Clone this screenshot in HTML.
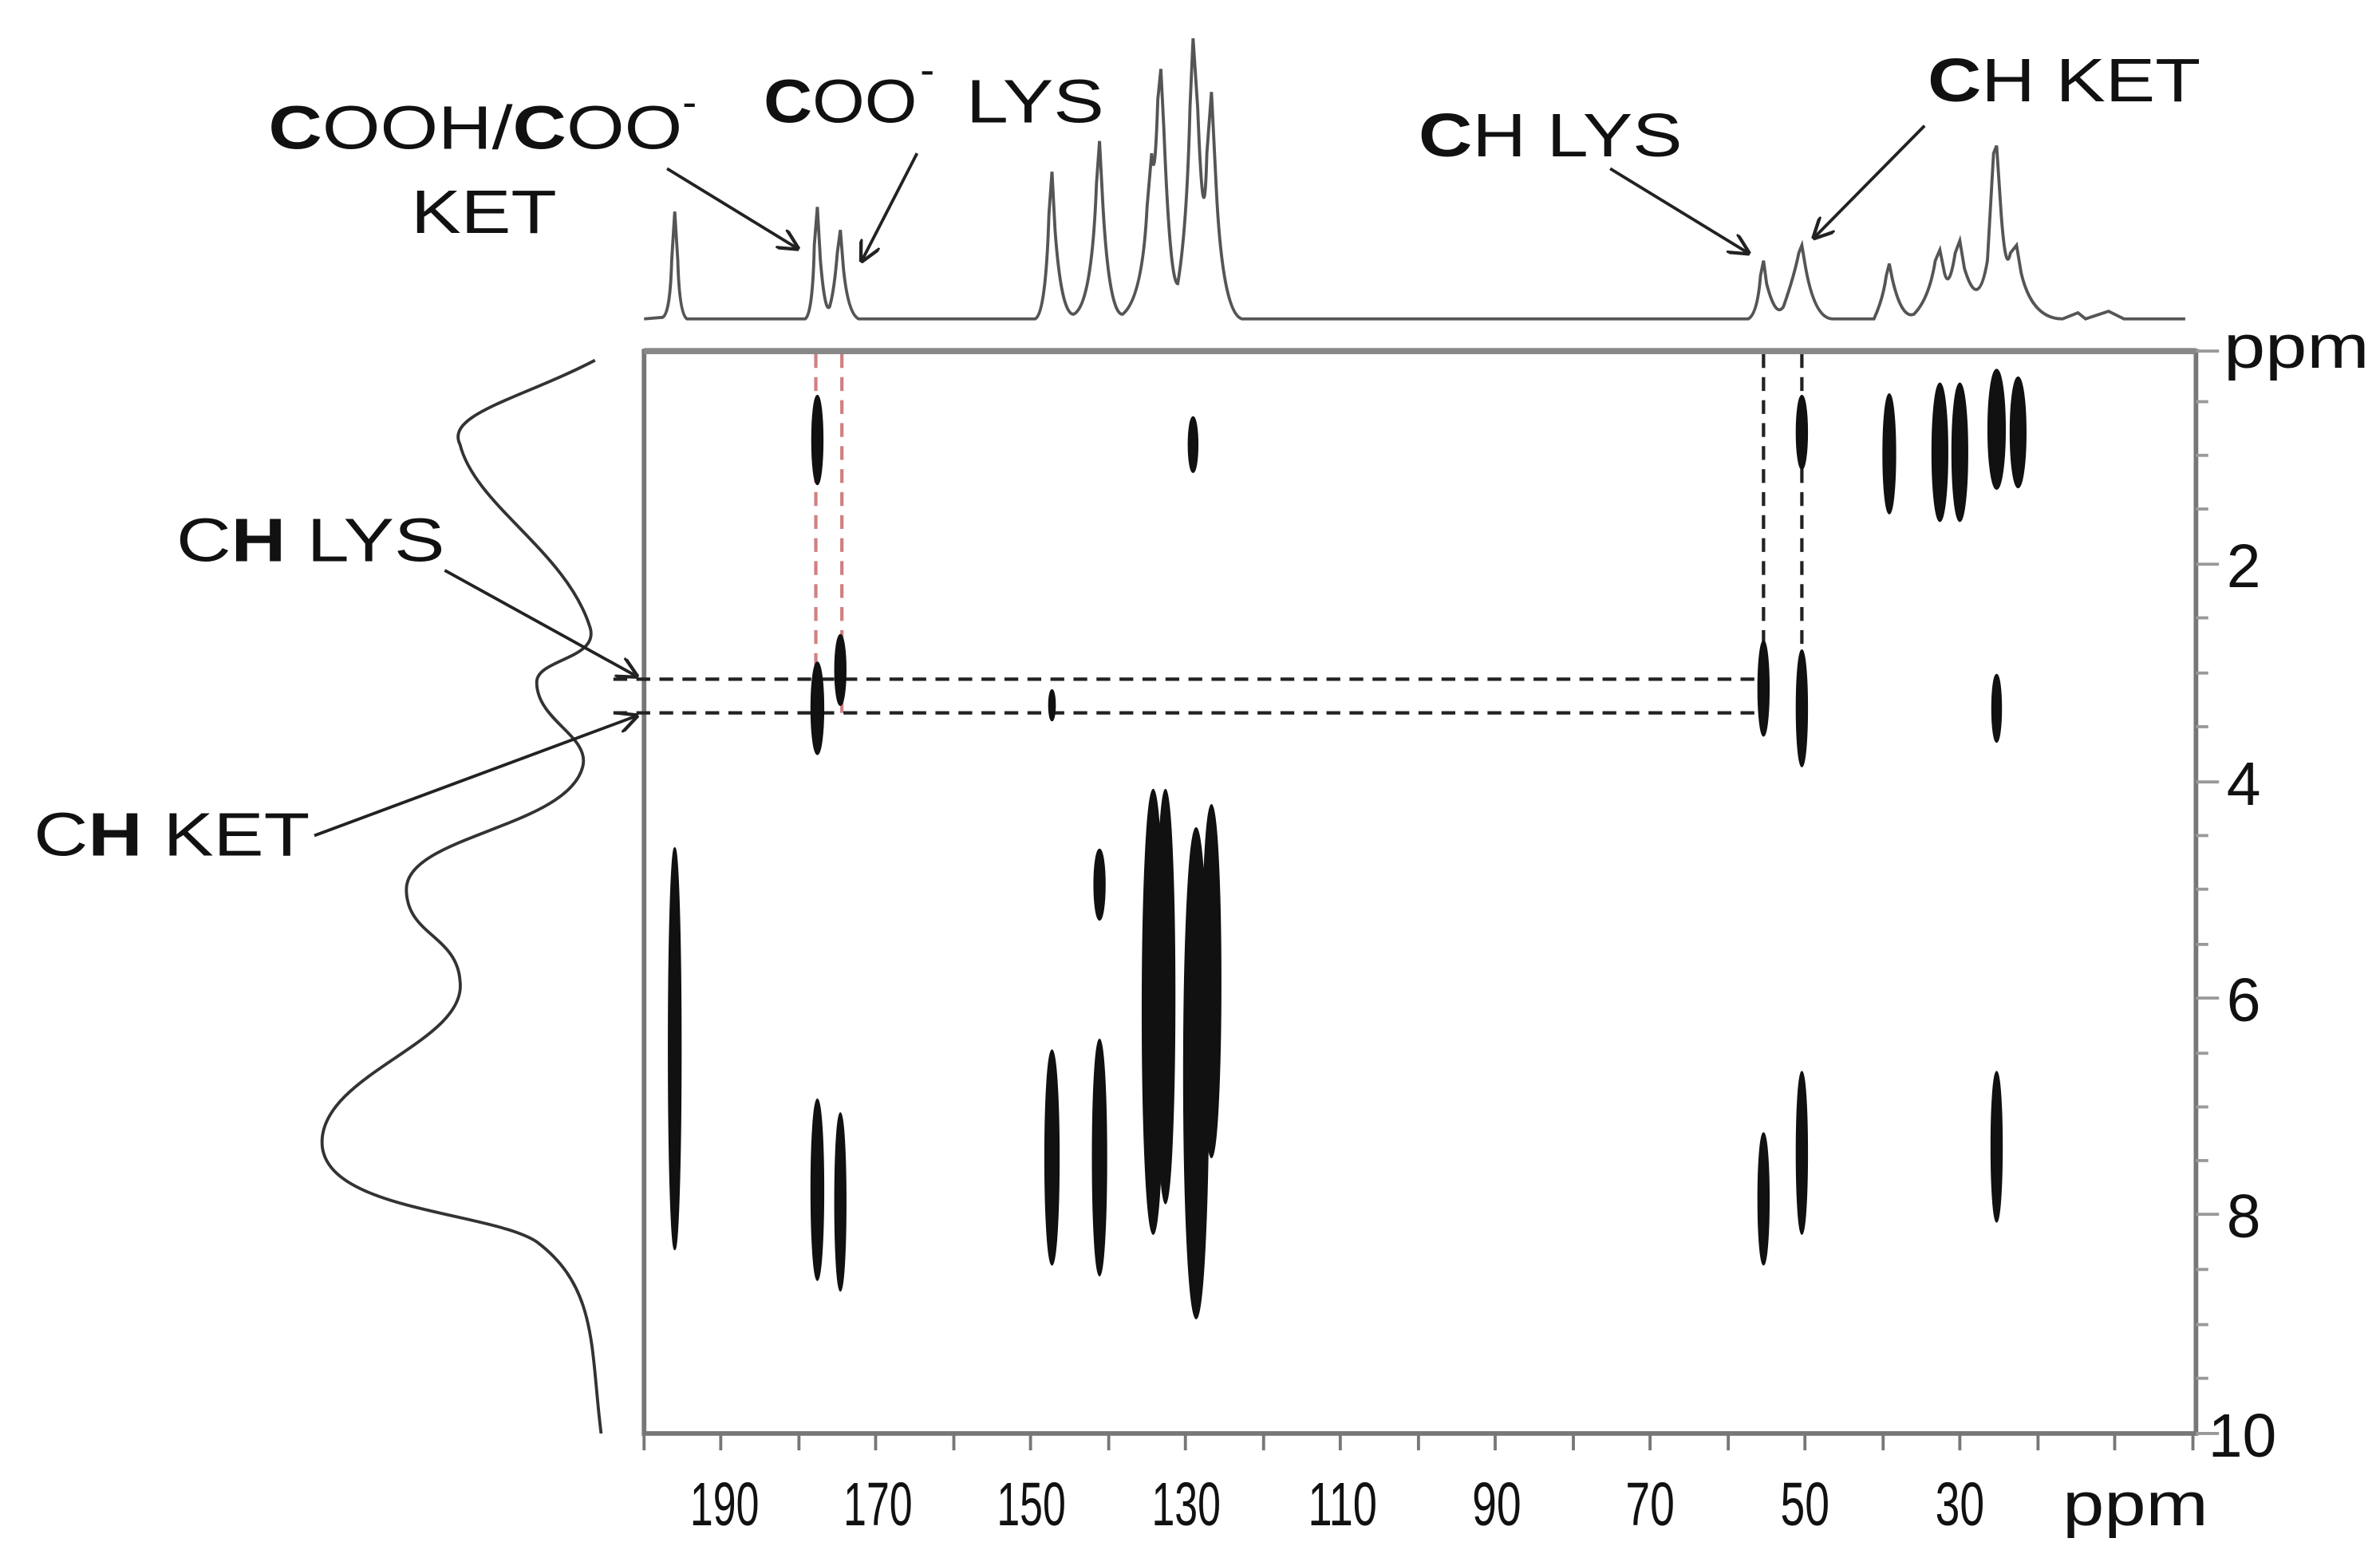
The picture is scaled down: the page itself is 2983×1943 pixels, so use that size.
<!DOCTYPE html>
<html><head><meta charset="utf-8"><style>
html,body{margin:0;padding:0;background:#fff;}
svg{display:block;}
text{font-family:"Liberation Sans",sans-serif;fill:#111;}
</style></head><body>
<svg width="2983" height="1943" viewBox="0 0 1552 1011" preserveAspectRatio="none" xmlns="http://www.w3.org/2000/svg">
<defs>
<marker id="ah" viewBox="0 0 10 10" refX="9" refY="5" markerWidth="7" markerHeight="7" orient="auto"><path d="M0,0 L10,5 L0,10" fill="none" stroke="#222" stroke-width="1.6"/></marker>
</defs>
<!-- plot frame -->
<rect x="420" y="229" width="1012" height="706" fill="none" stroke="#777" stroke-width="3"/>
<line x1="420" y1="229" x2="1432" y2="229" stroke="#888" stroke-width="4"/>
<!-- bottom ticks -->
<g stroke="#777" stroke-width="2">
<line x1="420" y1="935" x2="420" y2="946"/><line x1="470" y1="935" x2="470" y2="946"/><line x1="521" y1="935" x2="521" y2="946"/><line x1="571" y1="935" x2="571" y2="946"/><line x1="622" y1="935" x2="622" y2="946"/><line x1="672" y1="935" x2="672" y2="946"/><line x1="723" y1="935" x2="723" y2="946"/><line x1="773" y1="935" x2="773" y2="946"/><line x1="824" y1="935" x2="824" y2="946"/><line x1="874" y1="935" x2="874" y2="946"/><line x1="925" y1="935" x2="925" y2="946"/><line x1="975" y1="935" x2="975" y2="946"/><line x1="1026" y1="935" x2="1026" y2="946"/><line x1="1076" y1="935" x2="1076" y2="946"/><line x1="1127" y1="935" x2="1127" y2="946"/><line x1="1177" y1="935" x2="1177" y2="946"/><line x1="1228" y1="935" x2="1228" y2="946"/><line x1="1278" y1="935" x2="1278" y2="946"/><line x1="1329" y1="935" x2="1329" y2="946"/><line x1="1379" y1="935" x2="1379" y2="946"/><line x1="1430" y1="935" x2="1430" y2="946"/>
</g>
<!-- right ticks -->
<g stroke="#999" stroke-width="2">
<line x1="1432" y1="229" x2="1447" y2="229"/><line x1="1432" y1="262" x2="1440" y2="262"/><line x1="1432" y1="297" x2="1440" y2="297"/><line x1="1432" y1="332" x2="1440" y2="332"/><line x1="1432" y1="368" x2="1447" y2="368"/><line x1="1432" y1="403" x2="1440" y2="403"/><line x1="1432" y1="439" x2="1440" y2="439"/><line x1="1432" y1="474" x2="1440" y2="474"/><line x1="1432" y1="510" x2="1447" y2="510"/><line x1="1432" y1="545" x2="1440" y2="545"/><line x1="1432" y1="580" x2="1440" y2="580"/><line x1="1432" y1="616" x2="1440" y2="616"/><line x1="1432" y1="651" x2="1447" y2="651"/><line x1="1432" y1="687" x2="1440" y2="687"/><line x1="1432" y1="722" x2="1440" y2="722"/><line x1="1432" y1="757" x2="1440" y2="757"/><line x1="1432" y1="792" x2="1447" y2="792"/><line x1="1432" y1="828" x2="1440" y2="828"/><line x1="1432" y1="864" x2="1440" y2="864"/><line x1="1432" y1="899" x2="1440" y2="899"/><line x1="1432" y1="935" x2="1447" y2="935"/>
</g>
<!-- axis labels -->
<g font-size="40">
<text x="1450" y="240" textLength="95" lengthAdjust="spacingAndGlyphs">ppm</text>
<text x="1452" y="383">2</text><text x="1452" y="525">4</text><text x="1452" y="666">6</text><text x="1452" y="807">8</text><text x="1440" y="950">10</text>
<text x="450" y="995" textLength="45" lengthAdjust="spacingAndGlyphs">190</text>
<text x="550" y="995" textLength="45" lengthAdjust="spacingAndGlyphs">170</text>
<text x="650" y="995" textLength="45" lengthAdjust="spacingAndGlyphs">150</text>
<text x="751" y="995" textLength="45" lengthAdjust="spacingAndGlyphs">130</text>
<text x="853" y="995" textLength="45" lengthAdjust="spacingAndGlyphs">110</text>
<text x="960" y="995" textLength="32" lengthAdjust="spacingAndGlyphs">90</text>
<text x="1060" y="995" textLength="32" lengthAdjust="spacingAndGlyphs">70</text>
<text x="1161" y="995" textLength="32" lengthAdjust="spacingAndGlyphs">50</text>
<text x="1262" y="995" textLength="32" lengthAdjust="spacingAndGlyphs">30</text>
<text x="1345" y="995" textLength="95" lengthAdjust="spacingAndGlyphs">ppm</text>
</g>
<!-- dashed guides -->
<g stroke-width="2.2" stroke-dasharray="9,6" fill="none">
<line x1="532" y1="231" x2="532" y2="465" stroke="#d08080"/>
<line x1="549" y1="231" x2="549" y2="465" stroke="#d08080"/>
<line x1="1150" y1="231" x2="1150" y2="443" stroke="#222"/>
<line x1="1175" y1="231" x2="1175" y2="465" stroke="#222"/>
<line x1="400" y1="443" x2="1150" y2="443" stroke="#222"/>
<line x1="400" y1="465" x2="1150" y2="465" stroke="#222"/>
</g>
<!-- cross peaks -->
<g fill="#111" stroke="#111" stroke-width="1">
<ellipse cx="440" cy="684" rx="4" ry="131"/>
<ellipse cx="533" cy="287" rx="3.5" ry="29"/>
<ellipse cx="533" cy="462" rx="4" ry="30"/>
<ellipse cx="533" cy="776" rx="4" ry="59"/>
<ellipse cx="548" cy="437" rx="3.5" ry="23"/>
<ellipse cx="548" cy="784" rx="3.5" ry="58"/>
<ellipse cx="686" cy="460" rx="2" ry="10"/>
<ellipse cx="686" cy="755" rx="4.5" ry="70"/>
<ellipse cx="717" cy="577" rx="3.5" ry="23"/>
<ellipse cx="717" cy="755" rx="4.5" ry="77"/>
<ellipse cx="752" cy="660" rx="7" ry="145"/>
<ellipse cx="760" cy="650" rx="6" ry="135"/>
<ellipse cx="778" cy="290" rx="3" ry="18"/>
<ellipse cx="780" cy="700" rx="8" ry="160"/>
<ellipse cx="790" cy="640" rx="6" ry="115"/>
<ellipse cx="1150" cy="449" rx="3.5" ry="31"/>
<ellipse cx="1150" cy="782" rx="3.5" ry="43"/>
<ellipse cx="1175" cy="282" rx="3.5" ry="24"/>
<ellipse cx="1175" cy="462" rx="3.5" ry="38"/>
<ellipse cx="1175" cy="752" rx="3.5" ry="53"/>
<ellipse cx="1232" cy="296" rx="4" ry="39"/>
<ellipse cx="1265" cy="295" rx="5" ry="45"/>
<ellipse cx="1278" cy="295" rx="5" ry="45"/>
<ellipse cx="1302" cy="280" rx="5.5" ry="39"/>
<ellipse cx="1316" cy="282" rx="5" ry="36"/>
<ellipse cx="1302" cy="462" rx="3" ry="22"/>
<ellipse cx="1302" cy="748" rx="3.5" ry="49"/>
</g>
<!-- top 1D spectrum -->
<path fill="none" stroke="#555" stroke-width="2" d="M420,208 L432,207 Q437,205 438,170 L440,138 L442,170 Q443,205 448,208 L525,208 Q530,205 531,160 L533,135 L535,170 Q538,205 541,200 Q544,190 546,165 L548,150 L550,175 Q553,205 560,208 L675,208 Q682,205 684,140 L686,112 L688,150 Q692,205 700,205 Q712,200 715,120 L717,92 L719,130 Q723,205 732,205 Q745,195 748,135 L751,100 Q753,125 755,65 L757,45 L759,85 Q763,185 768,185 Q774,150 776,70 L778,25 L781,70 Q785,170 787,100 L790,60 L793,120 Q797,205 810,208 L1140,208 Q1146,205 1148,180 L1150,170 L1152,185 Q1158,208 1163,200 Q1170,180 1173,165 L1175,160 L1177,172 Q1183,208 1195,208 L1222,208 Q1228,195 1230,180 L1232,172 L1234,182 Q1240,208 1248,205 Q1258,195 1262,170 L1265,163 L1268,178 Q1271,190 1275,165 L1278,157 L1281,175 Q1290,205 1296,170 Q1299,120 1300,100 L1302,95 L1305,140 Q1308,180 1311,165 L1315,160 L1318,178 Q1325,208 1345,208 L1355,204 L1360,208 L1375,203 L1385,208 L1425,208"/>
<!-- left projection -->
<path fill="none" stroke="#333" stroke-width="2" d="M388,235 C340,260 290,270 300,290 C310,330 370,360 385,410 C390,430 350,430 350,445 C350,470 385,480 380,500 C370,540 265,545 265,580 C265,610 298,610 300,640 C305,680 210,700 210,745 C210,790 320,790 350,810 C390,840 385,880 392,935"/>
<!-- labels -->
<g font-size="40">
<text x="175" y="97" textLength="270" lengthAdjust="spacingAndGlyphs"><tspan font-weight="bold">C</tspan>OOH/<tspan font-weight="bold">C</tspan>OO</text>
<text x="445" y="76" font-size="28">-</text>
<text x="268" y="152" textLength="95" lengthAdjust="spacingAndGlyphs">KET</text>
<text x="498" y="80" textLength="100" lengthAdjust="spacingAndGlyphs"><tspan font-weight="bold">C</tspan>OO</text>
<text x="600" y="55" font-size="28">-</text>
<text x="630" y="80" textLength="90" lengthAdjust="spacingAndGlyphs">LYS</text>
<text x="925" y="102" textLength="172" lengthAdjust="spacingAndGlyphs"><tspan font-weight="bold">C</tspan>H LYS</text>
<text x="1257" y="66" textLength="178" lengthAdjust="spacingAndGlyphs"><tspan font-weight="bold">C</tspan>H KET</text>
<text x="115" y="366" textLength="175" lengthAdjust="spacingAndGlyphs">C<tspan font-weight="bold">H</tspan> LYS</text>
<text x="22" y="558" textLength="180" lengthAdjust="spacingAndGlyphs">C<tspan font-weight="bold">H</tspan> KET</text>
</g>
<!-- arrows -->
<g stroke="#222" stroke-width="2" fill="none" marker-end="url(#ah)">
<line x1="435" y1="110" x2="520" y2="162"/>
<line x1="598" y1="100" x2="562" y2="170"/>
<line x1="1050" y1="110" x2="1140" y2="165"/>
<line x1="1255" y1="82" x2="1183" y2="155"/>
<line x1="290" y1="372" x2="415" y2="441"/>
<line x1="205" y1="545" x2="415" y2="467"/>
</g>
</svg>
</body></html>
